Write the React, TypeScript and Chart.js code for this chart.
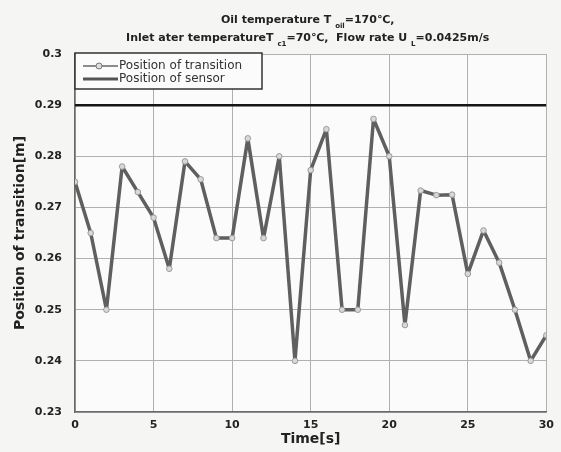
import { useEffect, useRef } from 'react';
import { Chart, registerables } from 'chart.js';

Chart.register(...registerables);

const times = [0, 1, 2, 3, 4, 5, 6, 7, 8, 9, 10, 11, 12, 13, 14, 15, 16, 17, 18, 19, 20, 21, 22, 23, 24, 25, 26, 27, 28, 29, 30];
const transition = [0.275, 0.265, 0.25, 0.278, 0.273, 0.268, 0.258, 0.279, 0.2755, 0.264, 0.264, 0.2835, 0.264, 0.280, 0.240, 0.2773, 0.2853, 0.25, 0.25, 0.2873, 0.280, 0.247, 0.2733, 0.2724, 0.2725, 0.257, 0.2655, 0.2592, 0.25, 0.240, 0.245];
const sensorTimes = [0, 30];
const sensorPosition = [0.29, 0.29];
const legendLabels = ['Position of transition', 'Position of sensor'];
const titleLine1 = [['Oil temperature T ', false], ['oil', true], ['=170\u2103,', false]] as [string, boolean][];
const titleLine2 = [['Inlet ater temperatureT ', false], ['c1', true], ['=70\u2103,  Flow rate U ', false], ['L', true], ['=0.0425m/s', false]] as [string, boolean][];
const xLabel = 'Time[s]';
const yLabel = 'Position of transition[m]';

const FONT = '"DejaVu Sans", "Liberation Sans", Arial, sans-serif';

function drawRich(ctx: CanvasRenderingContext2D, parts: [string, boolean][], cx: number, baseline: number) {
  const main = `bold 11px ${FONT}`;
  const sub = `bold 7px ${FONT}`;
  let total = 0;
  for (const [t, s] of parts) {
    ctx.font = s ? sub : main;
    total += ctx.measureText(t).width;
  }
  let x = cx - total / 2;
  ctx.textAlign = 'left';
  ctx.textBaseline = 'alphabetic';
  for (const [t, s] of parts) {
    ctx.font = s ? sub : main;
    ctx.fillText(t, x, s ? baseline + 5 : baseline);
    x += ctx.measureText(t).width;
  }
}

const decorPlugin = {
  id: 'decor',
  beforeDraw(chart: any) {
    const { ctx, width, height, chartArea } = chart;
    ctx.save();
    ctx.fillStyle = '#f5f5f4';
    ctx.fillRect(0, 0, width, height);
    ctx.fillStyle = '#fbfbfb';
    ctx.fillRect(chartArea.left, chartArea.top, chartArea.right - chartArea.left, chartArea.bottom - chartArea.top);
    ctx.restore();
  },
  afterDraw(chart: any) {
    const { ctx, chartArea } = chart;
    ctx.save();
    ctx.fillStyle = '#222';
    const cx = (chartArea.left + chartArea.right) / 2 - 3;
    drawRich(ctx, titleLine1, cx, 23);
    drawRich(ctx, titleLine2, cx, 41);

    // legend box
    const bx = chartArea.left;
    const by = chartArea.top - 1;
    const bw = 187;
    const bh = 36;
    ctx.fillStyle = '#fbfbfb';
    ctx.fillRect(bx, by, bw, bh);
    ctx.strokeStyle = '#333';
    ctx.lineWidth = 1.5;
    ctx.strokeRect(bx, by, bw, bh);

    const y1 = by + 13;
    const y2 = by + 26;
    ctx.strokeStyle = '#666';
    ctx.lineWidth = 1.5;
    ctx.beginPath();
    ctx.moveTo(bx + 8, y1);
    ctx.lineTo(bx + 43, y1);
    ctx.stroke();
    ctx.beginPath();
    ctx.arc(bx + 24, y1, 3, 0, Math.PI * 2);
    ctx.fillStyle = '#ddd';
    ctx.fill();
    ctx.strokeStyle = '#777';
    ctx.lineWidth = 1;
    ctx.stroke();
    ctx.strokeStyle = '#555';
    ctx.lineWidth = 3;
    ctx.beginPath();
    ctx.moveTo(bx + 8, y2);
    ctx.lineTo(bx + 43, y2);
    ctx.stroke();

    ctx.fillStyle = '#333';
    ctx.font = `12px ${FONT}`;
    ctx.textAlign = 'left';
    ctx.textBaseline = 'middle';
    ctx.fillText(legendLabels[0], bx + 44, y1);
    ctx.fillText(legendLabels[1], bx + 44, y2);
    ctx.restore();
  },
};

export default function App() {
  const ref = useRef<HTMLCanvasElement | null>(null);

  useEffect(() => {
    document.body.style.margin = '0';
    const canvas = ref.current;
    if (!canvas) return;
    const chart = new Chart(canvas, {
      type: 'line',
      data: {
        datasets: [
          {
            label: legendLabels[0],
            data: times.map((t, i) => ({ x: t, y: transition[i] })),
            borderColor: '#5f5f5f',
            borderWidth: 3.5,
            borderJoinStyle: 'round',
            borderCapStyle: 'round',
            pointRadius: 2.8,
            pointBackgroundColor: '#d8d8d8',
            pointBorderColor: '#9a9a9a',
            pointBorderWidth: 1,
            tension: 0,
            order: 1,
          },
          {
            label: legendLabels[1],
            data: sensorTimes.map((t, i) => ({ x: t, y: sensorPosition[i] })),
            borderColor: '#151515',
            borderWidth: 2.5,
            pointRadius: 0,
            order: 0,
          },
        ],
      },
      options: {
        responsive: false,
        animation: false,
        devicePixelRatio: 1,
        layout: { padding: { left: 0, top: 54, right: 10, bottom: 0 } },
        plugins: {
          legend: { display: false },
          title: { display: false },
          tooltip: { enabled: false },
        },
        scales: {
          x: {
            type: 'linear',
            min: 0,
            max: 30,
            ticks: {
              stepSize: 5,
              color: '#222',
              padding: 7,
              font: { family: FONT, size: 11, weight: 'bold' },
            },
            grid: { color: '#b0b0b0', lineWidth: 1, drawTicks: false },
            border: { display: true, color: '#6a6a6a', width: 1.5 },
            title: {
              display: true,
              text: xLabel,
              color: '#222',
              font: { family: FONT, size: 14, weight: 'bold' },
              padding: { top: 0, bottom: 4 },
            },
            afterFit: (s: any) => { s.height = 40; },
          },
          y: {
            type: 'linear',
            min: 0.23,
            max: 0.3,
            ticks: {
              stepSize: 0.01,
              color: '#222',
              padding: 13,
              font: { family: FONT, size: 11, weight: 'bold' },
              callback: (v: any) => String(Number(Number(v).toFixed(2))),
            },
            grid: { color: '#b0b0b0', lineWidth: 1, drawTicks: false },
            border: { display: true, color: '#6a6a6a', width: 1.5 },
            title: {
              display: true,
              text: yLabel,
              color: '#222',
              font: { family: FONT, size: 14, weight: 'bold' },
              padding: { top: 12, bottom: 0 },
            },
            afterFit: (s: any) => { s.width = 75; },
          },
        },
      },
      plugins: [decorPlugin],
    });
    return () => chart.destroy();
  }, []);

  return (
    <div style={{ width: 561, height: 452 }}>
      <canvas ref={ref} width={561} height={452} style={{ display: 'block' }} />
    </div>
  );
}
